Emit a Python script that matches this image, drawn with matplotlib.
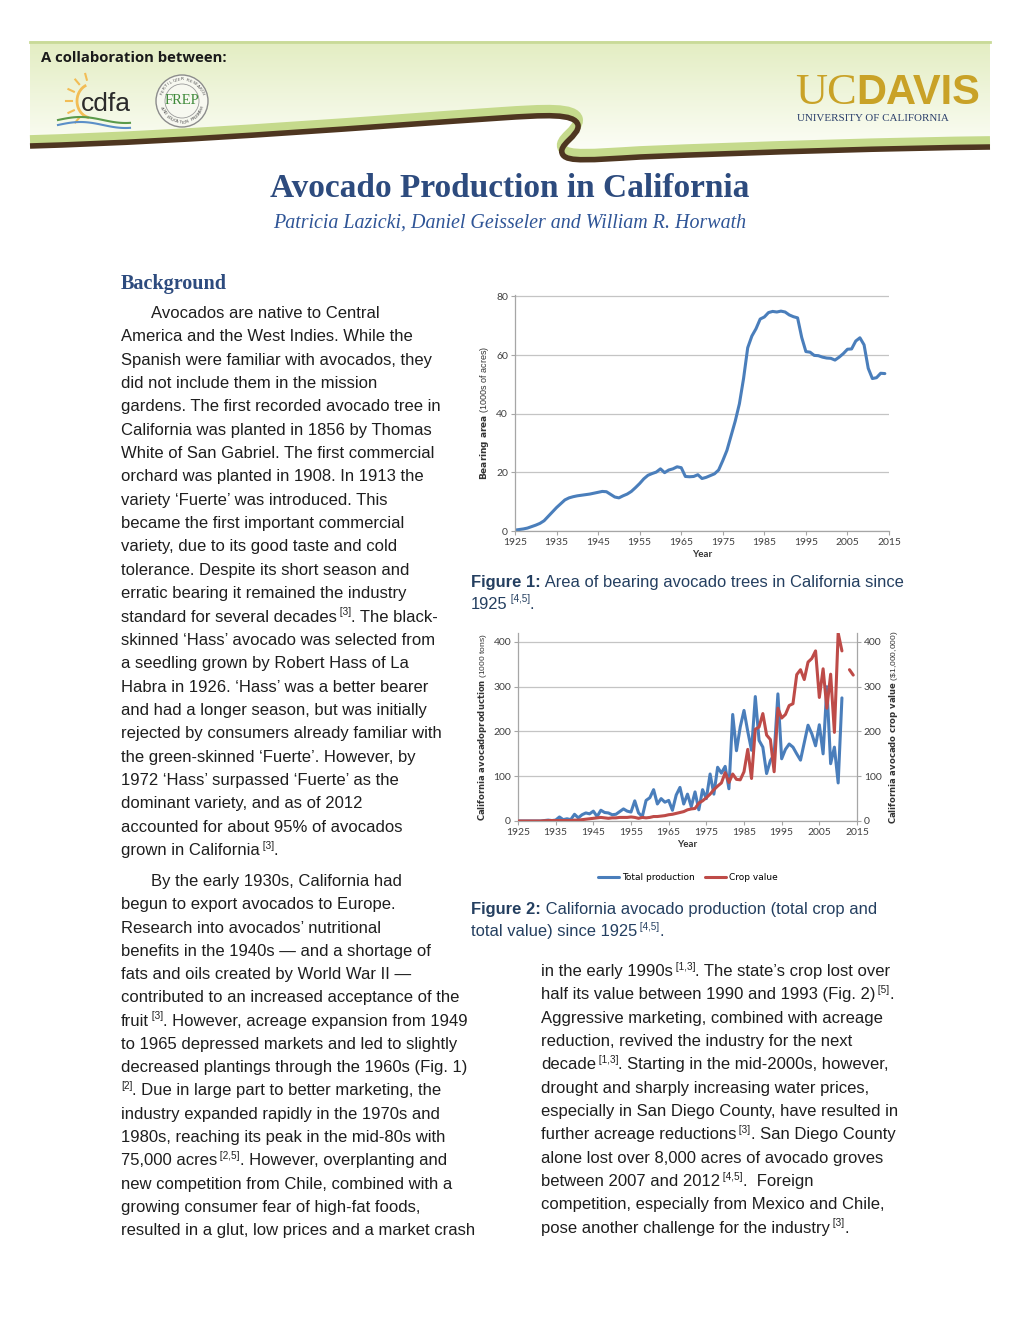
import numpy as np
import matplotlib
matplotlib.use("Agg")
import matplotlib.pyplot as plt
from matplotlib.path import Path
from matplotlib.patches import PathPatch, Circle, Arc

W, H = 1020, 1320

# ---- Figure 1: bearing area (1000s of acres), 1925-2014
area_years = list(range(1925, 2015))
area_acres = [0.3, 0.5, 0.7, 1.0, 1.5, 2.0, 2.6, 3.5, 5.0, 6.5,
              8.0, 9.3, 10.6, 11.3, 11.7, 12.0, 12.2, 12.4, 12.6, 12.9,
              13.2, 13.5, 13.4, 12.5, 11.6, 11.3, 12.0, 12.6, 13.5, 14.8,
              16.2, 17.8, 19.0, 19.6, 20.1, 21.2, 19.9, 20.8, 21.2, 21.9,
              21.6, 18.6, 18.5, 18.6, 19.2, 17.9, 18.3, 18.9, 19.5, 20.8,
              24.0, 27.5, 32.5, 37.5, 43.4, 52.0, 62.5, 66.5, 69.0, 72.3,
              73.0, 74.5, 74.9, 74.7, 75.0, 74.7, 73.7, 73.1, 72.7, 66.0,
              61.2, 61.0, 59.9, 59.8, 59.3, 59.0, 58.9, 58.3, 59.3, 60.5,
              62.0, 62.1, 64.8, 65.9, 63.5, 55.5, 52.0, 52.3, 53.8, 53.7]

# ---- Figure 2: production (1000 tons) 1925-2011, crop value ($1,000,000) 1925-2014
prod_years = list(range(1925, 2012))
prod_tons = [0, 0, 0, 0, 0, 0, 0,
             1, 2, 1, 2, 9, 3, 5, 3,
             15, 7, 14, 18, 16, 22, 10, 24, 19, 18,
             14, 15, 21, 27, 22, 20, 45, 18, 10, 46,
             52, 70, 38, 50, 42, 46, 24, 58, 75, 38,
             60, 32, 65, 25, 70, 50, 105, 60, 120, 107,
             122, 72, 238, 157, 210, 247, 200, 158, 278, 180,
             165, 106, 135, 148, 284, 139, 160, 172, 165, 150,
             136, 175, 214, 195, 168, 215, 150, 300, 128, 165,
             85, 275]
value_years = list(range(1925, 2015))
crop_value = [0, 0, 0, 0, 0, 0, 0,
              0.5, 1, 1, 1, 1, 1, 1, 1,
              2, 2, 3, 4, 5, 6, 7, 8, 7, 6,
              7, 7, 8, 8, 8, 9, 8, 6, 8, 7,
              8, 10, 10, 11, 12, 14, 15, 17, 19, 21,
              25, 27, 28, 40, 45, 52, 60, 70, 78, 85,
              108, 86, 105, 93, 92, 110, 160, 95, 205, 210,
              240, 192, 182, 110, 252, 230, 238, 258, 262, 327,
              338, 316, 355, 363, 380, 276, 340, 252, 328, 198,
              420, 380, np.nan, 338, 326]

BLUE = "#4a7ebb"
RED = "#be4b48"
BODY = "#1e1e1e"
NAVY = "#2d4b7e"
CAP = "#243f60"

left_par1 = [
    "America and the West Indies. While the",
    "Spanish were familiar with avocados, they",
    "did not include them in the mission",
    "gardens. The first recorded avocado tree in",
    "California was planted in 1856 by Thomas",
    "White of San Gabriel. The first commercial",
    "orchard was planted in 1908. In 1913 the",
    "variety \u2018Fuerte\u2019 was introduced. This",
    "became the first important commercial",
    "variety, due to its good taste and cold",
    "tolerance. Despite its short season and",
    "erratic bearing it remained the industry",
    [("standard for several decades", 0), (" [3]", 1), (". The black-", 0)],
    "skinned \u2018Hass\u2019 avocado was selected from",
    "a seedling grown by Robert Hass of La",
    "Habra in 1926. \u2018Hass\u2019 was a better bearer",
    "and had a longer season, but was initially",
    "rejected by consumers already familiar with",
    "the green-skinned \u2018Fuerte\u2019. However, by",
    "1972 \u2018Hass\u2019 surpassed \u2018Fuerte\u2019 as the",
    "dominant variety, and as of 2012",
    "accounted for about 95% of avocados",
    [("grown in California", 0), (" [3]", 1), (".", 0)],
]
left_par2 = [
    "begun to export avocados to Europe.",
    "Research into avocados\u2019 nutritional",
    "benefits in the 1940s \u2014 and a shortage of",
    "fats and oils created by World War II \u2014",
    "contributed to an increased acceptance of the",
    [("fruit", 0), (" [3]", 1), (". However, acreage expansion from 1949", 0)],
    "to 1965 depressed markets and led to slightly",
    "decreased plantings through the 1960s (Fig. 1)",
    [("[2]", 1), (". Due in large part to better marketing, the", 0)],
    "industry expanded rapidly in the 1970s and",
    "1980s, reaching its peak in the mid-80s with",
    [("75,000 acres", 0), (" [2,5]", 1), (". However, overplanting and", 0)],
    "new competition from Chile, combined with a",
    "growing consumer fear of high-fat foods,",
    "resulted in a glut, low prices and a market crash",
]
right_col = [
    [("in the early 1990s", 0), (" [1,3]", 1), (". The state\u2019s crop lost over", 0)],
    [("half its value between 1990 and 1993 (Fig. 2)", 0), (" [5]", 1), (".", 0)],
    "Aggressive marketing, combined with acreage",
    "reduction, revived the industry for the next",
    [("decade", 0), (" [1,3]", 1), (". Starting in the mid-2000s, however,", 0)],
    "drought and sharply increasing water prices,",
    "especially in San Diego County, have resulted in",
    [("further acreage reductions", 0), (" [3]", 1), (". San Diego County", 0)],
    "alone lost over 8,000 acres of avocado groves",
    [("between 2007 and 2012", 0), (" [4,5]", 1), (".  Foreign", 0)],
    "competition, especially from Mexico and Chile,",
    [("pose another challenge for the industry", 0), (" [3]", 1), (".", 0)],
]

fig = plt.figure(figsize=(W / 100, H / 100), dpi=100)
bg = fig.add_axes([0, 0, 1, 1])
bg.set_xlim(0, W)
bg.set_ylim(H, 0)
bg.axis("off")
renderer = fig.canvas.get_renderer()


def px_rect(l, t, r, b):
    return [l / W, 1 - b / H, (r - l) / W, (b - t) / H]


def runs(x, y, parts, size=12, color=BODY, family="Liberation Sans"):
    for s, kind in parts:
        if kind == 1:
            t = bg.text(x, y - 6.5, s, fontsize=size * 0.6, color=color,
                        family=family, va="baseline")
        elif kind == 2:
            t = bg.text(x, y, s, fontsize=size, color=color, family=family,
                        weight="bold", va="baseline")
        else:
            t = bg.text(x, y, s, fontsize=size, color=color, family=family,
                        va="baseline")
        x += t.get_window_extent(renderer).width


def line(x, y, item, **kw):
    if isinstance(item, str):
        item = [(item, 0)]
    runs(x, y, item, **kw)


# ---- header banner
grad = np.linspace(0, 1, 100)[:, None]
c_top = np.array([0.89, 0.93, 0.76])
c_bot = np.array([0.99, 0.995, 0.97])
img = c_top[None, None, :] * (1 - grad[..., None]) + c_bot[None, None, :] * grad[..., None]
bg.imshow(np.repeat(img, 2, axis=1), extent=[30, 990, 152, 41], aspect="auto", zorder=0)
bg.plot([30, 990], [41.5, 41.5], color="#c9da98", lw=2, zorder=1)

verts = [(30, 146), (200, 141), (380, 126), (500, 118),
         (545, 115), (575, 113), (578, 125),
         (580, 136), (556, 145), (563, 155),
         (568, 162), (590, 160), (640, 157),
         (760, 152), (900, 148), (990, 147)]
codes = [Path.MOVETO] + [Path.CURVE4] * 15
under = verts + [(990, 170), (30, 170)]
bg.add_patch(PathPatch(Path(under, codes + [Path.LINETO, Path.LINETO]),
                       facecolor="white", edgecolor="none", zorder=1))
green = [(x, y - 6) for x, y in verts]
bg.add_patch(PathPatch(Path(green, codes), facecolor="none", edgecolor="#c5da8c",
                       lw=7, capstyle="butt", zorder=2))
bg.add_patch(PathPatch(Path(verts, codes), facecolor="none", edgecolor="#4e3620",
                       lw=4, capstyle="butt", zorder=3))

bg.text(41, 62, "A collaboration between:", fontsize=10.7, weight="bold",
        family="Open Sans", color="#1a1a1a", va="baseline")

# cdfa logo
bg.add_patch(Arc((92, 101), 30, 34, theta1=100, theta2=250, color="#f2bd55", lw=2, zorder=4))
for ang in [105, 130, 155, 180, 205, 230]:
    a = np.deg2rad(ang)
    bg.plot([92 + 20 * np.cos(a), 92 + 26 * np.cos(a)],
            [101 - 22 * np.sin(a), 101 - 28 * np.sin(a)], color="#f2bd55", lw=1.5, zorder=4)
bg.text(81, 111, "cdfa", fontsize=19, family="Liberation Sans", color="#2a2a2a",
        va="baseline", zorder=5)
xs = np.linspace(58, 130, 60)
bg.plot(xs, 120 - 3 * np.sin((xs - 58) / 72 * np.pi * 1.6), color="#5b9a4a", lw=1.5, zorder=4)
bg.plot(xs, 125 - 3 * np.sin((xs - 58) / 72 * np.pi * 1.6), color="#5b8fc8", lw=1.5, zorder=4)

# FREP seal
bg.add_patch(Circle((182, 101), 26, facecolor="#f7f8f0", edgecolor="#8c8c8c", lw=1, zorder=4))
bg.add_patch(Circle((182, 101), 17, facecolor="none", edgecolor="#9a9a9a", lw=0.6, zorder=4))
bg.text(182, 100, "FREP", fontsize=10.5, family="Liberation Serif", color="#3f8a3a",
        ha="center", va="center", zorder=5)
top_txt = "FERTILIZER RESEARCH"
for i, ch in enumerate(top_txt):
    a = np.deg2rad(160 - i * 140 / (len(top_txt) - 1))
    bg.text(182 + 21.5 * np.cos(a), 101 - 21.5 * np.sin(a), ch, fontsize=3.2,
            color="#555", ha="center", va="center", rotation=np.rad2deg(a) - 90, zorder=5)
bot_txt = "AND EDUCATION PROGRAM"
for i, ch in enumerate(bot_txt):
    a = np.deg2rad(200 + i * 140 / (len(bot_txt) - 1))
    bg.text(182 + 21.5 * np.cos(a), 101 - 21.5 * np.sin(a), ch, fontsize=3.2,
            color="#555", ha="center", va="center", rotation=np.rad2deg(a) + 90, zorder=5)

# UC Davis
gold = "#c9a227"
t = bg.text(795, 104, "UC", fontsize=32, family="Liberation Serif", color=gold,
            va="baseline", zorder=5)
bg.text(795 + t.get_window_extent(renderer).width, 104, "DAVIS", fontsize=30,
        family="Liberation Sans", weight="bold", color=gold, va="baseline", zorder=5)
bg.text(797, 121, "UNIVERSITY OF CALIFORNIA", fontsize=7.9, family="Liberation Serif",
        color="#2b3f6b", va="baseline", zorder=5)

# ---- title block
bg.text(510, 197, "Avocado Production in California", fontsize=24, weight="bold",
        family="Liberation Serif", color=NAVY, ha="center", va="baseline")
bg.text(510, 228, "Patricia Lazicki, Daniel Geisseler and William R. Horwath",
        fontsize=14.4, style="italic", family="Liberation Serif", color="#2f5597",
        ha="center", va="baseline")
bg.text(121, 289, "Background", fontsize=14.5, weight="bold", family="Liberation Serif",
        color=NAVY, va="baseline")

# ---- body text
step = 23.35
line(151, 318, "Avocados are native to Central")
for i, item in enumerate(left_par1):
    line(121, 318 + (i + 1) * step, item)
line(151, 886, "By the early 1930s, California had")
for i, item in enumerate(left_par2):
    line(121, 886 + (i + 1) * 23.27, item)
for i, item in enumerate(right_col):
    line(541, 976 + i * step, item)

# ---- captions
runs(471, 587, [("Figure 1:", 2), (" Area of bearing avocado trees in California since", 0)],
     size=11.9, color=CAP)
runs(471, 609, [("1925", 0), (" [4,5]", 1), (".", 0)], size=11.9, color=CAP)
runs(471, 914, [("Figure 2:", 2), (" California avocado production (total crop and", 0)],
     size=11.9, color=CAP)
runs(471, 936, [("total value) since 1925", 0), (" [4,5]", 1), (".", 0)], size=11.9, color=CAP)


def style_axis(ax):
    for s in ["top", "right"]:
        ax.spines[s].set_visible(False)
    for s in ["left", "bottom"]:
        ax.spines[s].set_color("#a6a6a6")
        ax.spines[s].set_linewidth(0.9)
    ax.tick_params(direction="out", length=3, width=0.8, color="#a6a6a6",
                   labelsize=7.5, labelcolor="#404040", pad=2)
    for lab in ax.get_xticklabels() + ax.get_yticklabels():
        lab.set_family("Lato")
    ax.grid(axis="y", color="#c4c4c4", lw=0.9)
    ax.set_axisbelow(True)


# ---- Figure 1 chart
ax1 = fig.add_axes(px_rect(515, 295, 889, 531))
ax1.plot(area_years, area_acres, color=BLUE, lw=2.2, solid_joinstyle="round",
         solid_capstyle="round")
ax1.set_xlim(1925, 2015)
ax1.set_ylim(0, 80.5)
ax1.set_xticks(range(1925, 2016, 10))
ax1.set_yticks(range(0, 81, 20))
style_axis(ax1)
ax1.set_xlabel("Year", fontsize=7, weight="bold", family="Lato", color="#333", labelpad=2)
ax1.set_ylabel(r"$\mathbf{Bearing\ area}$ (1000s of acres)", fontsize=6.5,
               family="Liberation Sans", color="#333", labelpad=4)

# ---- Figure 2 chart
ax2 = fig.add_axes(px_rect(518, 633, 857, 821))
l1, = ax2.plot(prod_years, prod_tons, color=BLUE, lw=2.2, solid_joinstyle="round",
               solid_capstyle="round", label="Total production")
ax2.set_xlim(1925, 2015)
ax2.set_ylim(0, 420)
ax2.set_xticks(range(1925, 2016, 10))
ax2.set_yticks(range(0, 401, 100))
style_axis(ax2)
ax2r = ax2.twinx()
l2, = ax2r.plot(value_years, crop_value, color=RED, lw=2.2, solid_joinstyle="round",
                solid_capstyle="round", label="Crop value")
ax2r.set_ylim(0, 420)
ax2r.set_yticks(range(0, 401, 100))
for s in ["top", "left", "bottom"]:
    ax2r.spines[s].set_visible(False)
ax2r.spines["right"].set_color("#a6a6a6")
ax2r.spines["right"].set_linewidth(0.9)
ax2r.tick_params(direction="out", length=3, width=0.8, color="#a6a6a6",
                 labelsize=7.5, labelcolor="#404040", pad=2)
for lab in ax2r.get_yticklabels():
    lab.set_family("Lato")
ax2.set_xlabel("Year", fontsize=7, weight="bold", family="Lato", color="#333", labelpad=2)
ax2.set_ylabel(r"$\mathbf{California\ avocadoproduction}$ (1000 tons)", fontsize=6.1,
               family="Liberation Sans", color="#333", labelpad=3)
ax2r.set_ylabel(r"$\mathbf{California\ avocado\ crop\ value}$ (\$1,000,000)", fontsize=6.1,
                family="Liberation Sans", color="#333", rotation=90, labelpad=4)
fig.legend(handles=[l1, l2], loc="center", bbox_to_anchor=(688 / W, 1 - 878 / H),
           ncol=2, frameon=False, fontsize=6.5, handlelength=2.3, handletextpad=0.3,
           columnspacing=1.2)

fig.savefig("out.png", dpi=100)
